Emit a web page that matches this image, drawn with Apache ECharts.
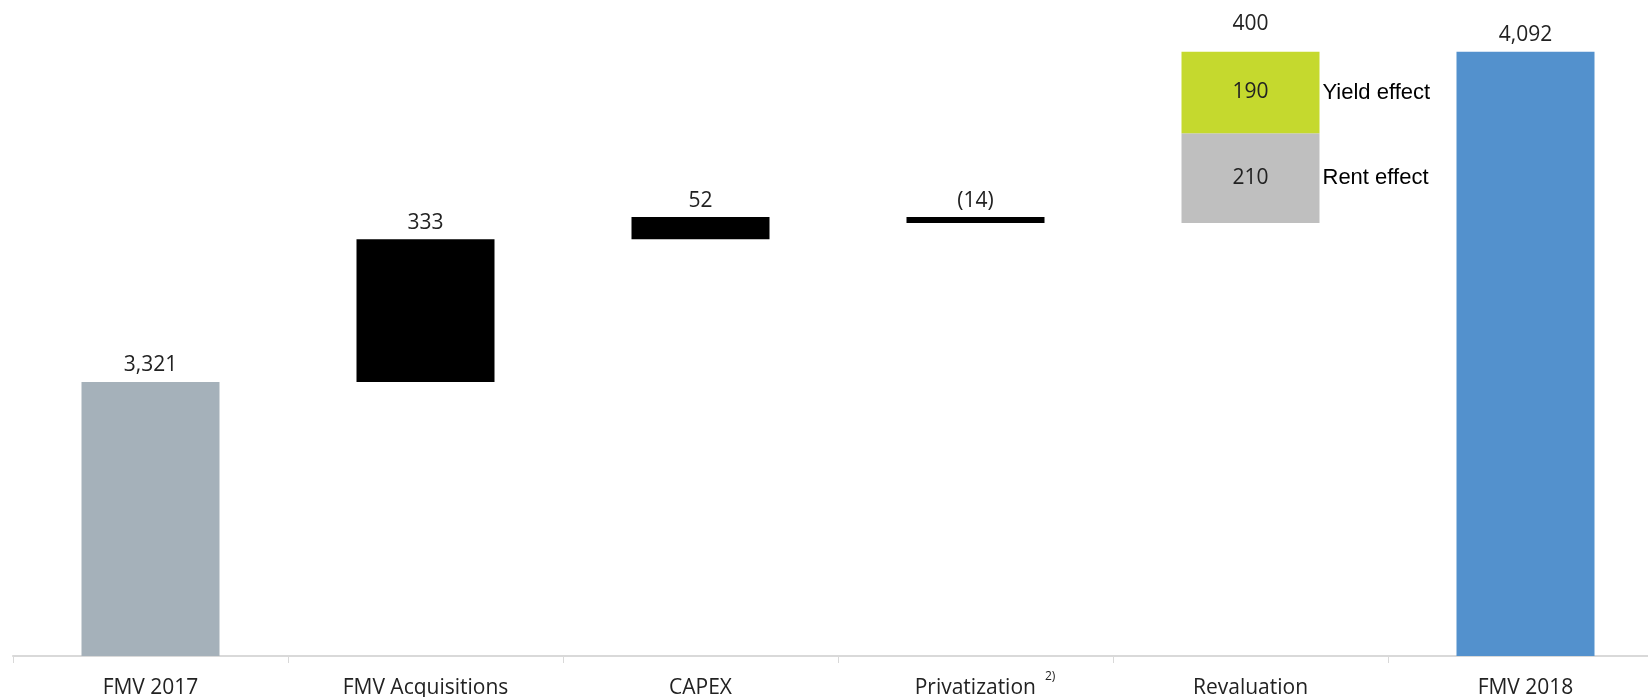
<!DOCTYPE html>
<html><head><meta charset="utf-8">
<script src="https://cdn.jsdelivr.net/npm/echarts@6/dist/echarts.min.js"></script>
<style>html,body{margin:0;padding:0;background:#fff}#c{width:1648px;height:697px}</style>
</head><body><div id="c"></div><script>
// ---- data ----
const categories = ['FMV 2017', 'FMV Acquisitions', 'CAPEX', 'Privatization', 'Revaluation', 'FMV 2018'];
const categoryNotes = { 'Privatization': '2)' };
const openingValue = 3321;          // FMV 2017
const closingValue = 4092;          // FMV 2018
const movementValues = [333, 52, -14]; // FMV Acquisitions, CAPEX, Privatization
const rentEffect = 210;
const yieldEffect = 190;
const effectNames = ['Rent effect', 'Yield effect'];

// ---- build waterfall series from the data ----
const n = categories.length;
const base = new Array(n).fill(0);
const moves = new Array(n).fill(0);
const totals = new Array(n).fill(0);
const rent = new Array(n).fill(0);
const yld = new Array(n).fill(0);
let running = openingValue;
totals[0] = { value: openingValue, itemStyle: { color: '#A5B1BA' } };
movementValues.forEach((v, i) => {
  const idx = i + 1;
  base[idx] = v >= 0 ? running : running + v;
  moves[idx] = { value: Math.abs(v), signed: v };
  running += v;
});
const revIdx = 4;
base[revIdx] = running;
rent[revIdx] = rentEffect;
yld[revIdx] = yieldEffect;
totals[5] = { value: closingValue, itemStyle: { color: '#5391CD' } };

const fmt = v => v.toLocaleString('en-US');
const valueFont = { fontFamily: 'Open Sans', fontSize: 21, color: '#222' };
const nameFont = { fontFamily: 'Liberation Sans', fontSize: 22, color: '#000' };
const BW = 138;

const chart = echarts.init(document.getElementById('c'), null, { renderer: 'canvas' });
chart.setOption({
  animation: false,
  backgroundColor: '#fff',
  grid: { left: 13, width: 1650, top: 0, bottom: 41, containLabel: false, outerBoundsMode: 'none' },
  xAxis: {
    type: 'category',
    data: categories,
    axisLine: { lineStyle: { color: '#D9D9D9', width: 2 } },
    axisTick: { show: true, length: 7, lineStyle: { color: '#D9D9D9', width: 1 } },
    axisLabel: {
      interval: 0, margin: 15,
      fontFamily: 'Open Sans', fontSize: 21, color: '#222',
      formatter: v => categoryNotes[v] ? '{mp|' + v + '}{s|' + categoryNotes[v] + '}' : '{m|' + v + '}',
      rich: {
        m: { fontFamily: 'Open Sans', fontSize: 21, color: '#222', lineHeight: 35 },
        mp: { fontFamily: 'Open Sans', fontSize: 21, color: '#222', lineHeight: 35, padding: [0, 0, 0, 19] },
        s: { fontFamily: 'Open Sans', fontSize: 12, color: '#222', lineHeight: 12, padding: [0, 0, 23, 9] }
      }
    }
  },
  yAxis: { type: 'value', min: 2681, max: 4213, show: false, splitLine: { show: false } },
  series: [
    {
      name: 'base', type: 'bar', stack: 'w', barWidth: BW, silent: true,
      itemStyle: { color: 'rgba(0,0,0,0)' }, data: base
    },
    {
      name: 'totals', type: 'bar', stack: 'w', barWidth: BW,
      label: { show: true, position: 'top', distance: 6, ...valueFont,
        formatter: p => p.value ? fmt(p.value) : '' },
      data: totals
    },
    {
      name: 'movements', type: 'bar', stack: 'w', barWidth: BW,
      itemStyle: { color: '#000' },
      label: { show: true, position: 'top', distance: 6, ...valueFont,
        formatter: p => p.value ? (p.data.signed < 0 ? '(' + fmt(-p.data.signed) + ')' : fmt(p.data.signed)) : '' },
      data: moves
    },
    {
      name: effectNames[0], type: 'bar', stack: 'w', barWidth: BW,
      itemStyle: { color: '#BFBFBF' },
      label: { show: true, position: 'inside', ...valueFont, formatter: p => p.value ? fmt(p.value) : '' },
      markPoint: {
        symbol: 'rect', symbolSize: [BW, 2], itemStyle: { color: 'rgba(0,0,0,0)' }, silent: true,
        label: { show: true, position: 'right', distance: 3, ...nameFont, formatter: p => p.name },
        data: [{ name: effectNames[0], coord: [categories[revIdx], base[revIdx] + rentEffect / 2] }]
      },
      data: rent
    },
    {
      name: effectNames[1], type: 'bar', stack: 'w', barWidth: BW,
      itemStyle: { color: '#C5D92E' },
      label: { show: true, position: 'inside', ...valueFont, formatter: p => p.value ? fmt(p.value) : '' },
      markPoint: {
        symbol: 'rect', symbolSize: [BW, 2], itemStyle: { color: 'rgba(0,0,0,0)' }, silent: true,
        data: [
          { name: effectNames[1], coord: [categories[revIdx], base[revIdx] + rentEffect + yieldEffect / 2],
            label: { show: true, position: 'right', distance: 3, ...nameFont, formatter: p => p.name } },
          { name: 'total', coord: [categories[revIdx], base[revIdx] + rentEffect + yieldEffect],
            label: { show: true, position: 'top', distance: 16, ...valueFont, formatter: () => fmt(rentEffect + yieldEffect) } }
        ]
      },
      data: yld
    }
  ]
});
</script></body></html>
